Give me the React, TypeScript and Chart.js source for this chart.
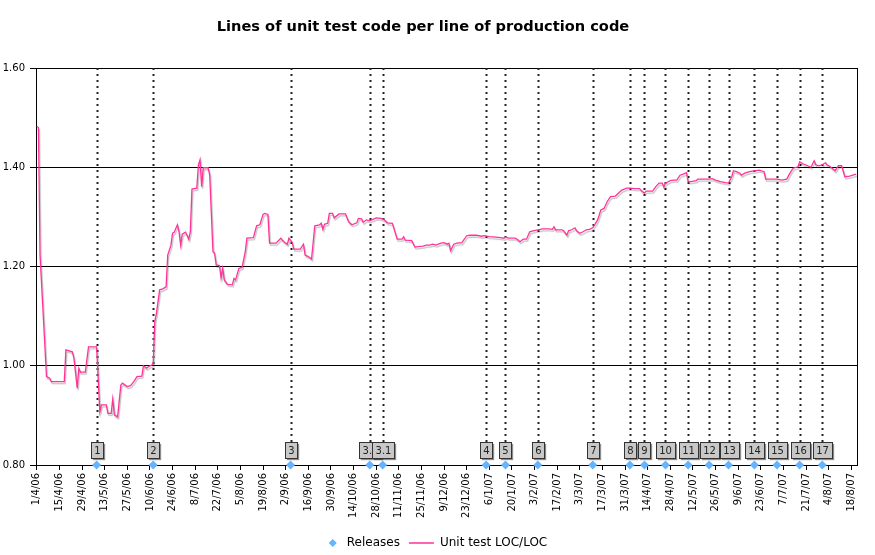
import { useEffect, useRef } from "react";
import { Chart, registerables } from "chart.js";

Chart.register(...registerables);

const FONT = "'DejaVu Sans', Verdana, sans-serif";
const TITLE = "Lines of unit test code per line of production code";
const SERIES_LINE = "Unit test LOC/LOC";
const SERIES_REL = "Releases";
const PINK = "#ff3399";
const BLUE = "#66b3ff";

// Day 0 = 1/4/06
const START = Date.UTC(2006, 3, 1);
const DAY = 86400000;

const tickLabels = [
  "1/4/06", "15/4/06", "29/4/06", "13/5/06", "27/5/06", "10/6/06", "24/6/06", "8/7/06",
  "22/7/06", "5/8/06", "19/8/06", "2/9/06", "16/9/06", "30/9/06", "14/10/06", "28/10/06",
  "11/11/06", "25/11/06", "9/12/06", "23/12/06", "6/1/07", "20/1/07", "3/2/07", "17/2/07",
  "3/3/07", "17/3/07", "31/3/07", "14/4/07", "28/4/07", "12/5/07", "26/5/07", "9/6/07",
  "23/6/07", "7/7/07", "21/7/07", "4/8/07", "18/8/07",
];
const yTicks = [0.8, 1.0, 1.2, 1.4, 1.6];

const releaseNames = ["1", "2", "3", "3.0", "3.1", "4", "5", "6", "7", "8", "9", "10", "11", "12", "13", "14", "15", "16", "17"];
const releaseDates = [
  "8/5/06", "12/6/06", "5/9/06", "24/10/06", "1/11/06", "4/1/07", "16/1/07", "5/2/07", "11/3/07",
  "3/4/07", "12/4/07", "25/4/07", "9/5/07", "22/5/07", "3/6/07", "19/6/07", "3/7/07", "17/7/07", "31/7/07",
];

// days since 1/4/06
const days = [
  0, 1, 2, 6, 8, 9, 17, 18, 22, 23, 25, 26, 27, 30, 32, 37, 39, 40, 43, 44, 46, 47, 48, 50, 52, 53, 56, 58, 60, 62,
  65, 66, 68, 69, 72, 73, 74, 76, 78, 80, 81, 83, 84, 85, 87, 88, 89, 90, 92, 93, 94, 95, 96, 99, 100, 101, 102, 103, 106, 107,
  109, 110, 111, 113, 114, 115, 116, 118, 121, 122, 123, 125, 127, 129, 130, 134, 136, 138, 140, 141, 143, 144, 148, 151, 152, 154, 155, 156, 158, 159,
  163, 165, 166, 168, 170, 172, 175, 176, 177, 178, 180, 181, 183, 184, 187, 191, 193, 195, 198, 199, 201, 202, 204, 206, 208, 210, 213, 215, 217, 220,
  223, 226, 227, 228, 232, 234, 236, 239, 241, 243, 245, 247, 250, 252, 254, 255, 256, 258, 260, 263, 266, 268, 272, 275, 277, 280, 284, 287, 289, 290,
  292, 296, 298, 299, 301, 303, 305, 307, 310, 313, 317, 319, 320, 321, 325, 326, 328, 329, 331, 333, 334, 336, 338, 340, 342, 344, 347, 349, 351, 353,
  355, 358, 360, 362, 365, 367, 370, 373, 374, 376, 377, 381, 383, 385, 387, 388, 389, 392, 394, 396, 398, 400, 402, 403, 405, 408, 409, 416, 418, 420,
  423, 426, 428, 430, 431, 433, 435, 436, 438, 441, 445, 447, 450, 451, 455, 458, 461, 464, 466, 468, 471, 472, 474, 477, 479, 481, 482, 484, 486, 488,
  489, 491, 494, 496, 498, 500, 503, 507,
];
const ratio = [
  1.482, 1.48, 1.223, 0.978, 0.975, 0.968, 0.968, 1.032, 1.028, 1.015, 0.955, 0.995, 0.987, 0.987, 1.038, 1.038, 0.907, 0.921, 0.921, 0.904, 0.904, 0.933, 0.901, 0.897, 0.961, 0.965, 0.958, 0.96, 0.968, 0.978,
  0.979, 1.0, 0.995, 0.998, 1.003, 1.089, 1.105, 1.153, 1.155, 1.159, 1.223, 1.243, 1.267, 1.269, 1.284, 1.27, 1.243, 1.265, 1.269, 1.263, 1.255, 1.27, 1.356, 1.358, 1.405, 1.415, 1.361, 1.399, 1.399, 1.384,
  1.23, 1.227, 1.203, 1.202, 1.177, 1.196, 1.173, 1.164, 1.163, 1.176, 1.173, 1.196, 1.198, 1.23, 1.257, 1.258, 1.282, 1.284, 1.305, 1.307, 1.305, 1.247, 1.247, 1.257, 1.253, 1.247, 1.245, 1.257, 1.249, 1.235,
  1.235, 1.245, 1.223, 1.22, 1.215, 1.282, 1.284, 1.287, 1.275, 1.285, 1.287, 1.307, 1.307, 1.298, 1.306, 1.306, 1.29, 1.284, 1.288, 1.297, 1.296, 1.289, 1.294, 1.292, 1.295, 1.298, 1.297, 1.294, 1.288, 1.287,
  1.255, 1.255, 1.26, 1.253, 1.252, 1.239, 1.24, 1.241, 1.243, 1.243, 1.245, 1.243, 1.247, 1.248, 1.245, 1.247, 1.232, 1.245, 1.247, 1.248, 1.262, 1.263, 1.263, 1.261, 1.262, 1.26, 1.259, 1.258, 1.257, 1.259,
  1.257, 1.257, 1.253, 1.25, 1.255, 1.255, 1.27, 1.272, 1.274, 1.276, 1.276, 1.275, 1.28, 1.274, 1.274, 1.272, 1.263, 1.272, 1.274, 1.278, 1.272, 1.267, 1.27, 1.274, 1.275, 1.278, 1.294, 1.314, 1.317, 1.331,
  1.341, 1.342, 1.348, 1.354, 1.358, 1.358, 1.357, 1.357, 1.353, 1.348, 1.352, 1.352, 1.361, 1.368, 1.368, 1.36, 1.368, 1.373, 1.374, 1.374, 1.384, 1.386, 1.389, 1.371, 1.371, 1.373, 1.376, 1.376, 1.377, 1.374,
  1.371, 1.369, 1.368, 1.381, 1.393, 1.391, 1.388, 1.384, 1.388, 1.391, 1.393, 1.394, 1.391, 1.376, 1.376, 1.376, 1.374, 1.376, 1.388, 1.398, 1.401, 1.411, 1.407, 1.403, 1.4, 1.413, 1.405, 1.403, 1.405, 1.409,
  1.405, 1.401, 1.393, 1.403, 1.403, 1.381, 1.382, 1.386,
];

const toDay = (s: string) => {
  const [d, m, y] = s.split("/").map(Number);
  return Math.round((Date.UTC(2000 + y, m - 1, d) - START) / DAY);
};
const fmt = (day: number) => {
  const dt = new Date(START + Math.round(day) * DAY);
  return `${dt.getUTCDate()}/${dt.getUTCMonth() + 1}/${String(dt.getUTCFullYear()).slice(2)}`;
};

const tickDays = tickLabels.map(toDay);
const releaseDays = releaseDates.map(toDay);

const annotPlugin = {
  id: "annot",
  beforeDatasetDraw(chart: any, args: any) {
    if (args.index === 0) {
      const ctx = chart.ctx;
      ctx.save();
      ctx.shadowColor = "rgba(0,0,0,0.25)";
      ctx.shadowOffsetX = 1;
      ctx.shadowOffsetY = 2;
      ctx.shadowBlur = 1;
    }
  },
  afterDatasetDraw(chart: any, args: any) {
    if (args.index === 0) chart.ctx.restore();
  },
  beforeDatasetsDraw(chart: any) {
    const { ctx, chartArea, scales } = chart;
    const base = scales.y.getPixelForValue(0.8);
    const boxTop = base - 23;
    ctx.save();
    ctx.strokeStyle = "#222";
    ctx.lineWidth = 2;
    ctx.setLineDash([2, 4]);
    releaseDays.forEach((d) => {
      const x = Math.round(scales.x.getPixelForValue(d)) + 0.5;
      ctx.beginPath();
      ctx.moveTo(x, chartArea.top);
      ctx.lineTo(x, boxTop);
      ctx.stroke();
    });
    ctx.restore();
  },
  afterDatasetsDraw(chart: any) {
    const { ctx, chartArea, scales } = chart;
    const base = scales.y.getPixelForValue(0.8);
    const boxTop = base - 23;
    const boxH = 16;
    ctx.save();
    ctx.font = `10px ${FONT}`;
    ctx.textAlign = "center";
    ctx.textBaseline = "middle";
    releaseDays.forEach((d, i) => {
      const x = Math.round(scales.x.getPixelForValue(d));
      const tw = ctx.measureText(releaseNames[i]).width;
      const w = Math.round(tw + 6);
      const left = Math.round(x - w / 2) + 0.5;
      ctx.save();
      ctx.shadowColor = "rgba(0,0,0,0.45)";
      ctx.shadowOffsetX = 1.5;
      ctx.shadowOffsetY = 1.5;
      ctx.shadowBlur = 1;
      ctx.fillStyle = "#c8c8c8";
      ctx.fillRect(left, boxTop + 0.5, w, boxH);
      ctx.restore();
      ctx.strokeStyle = "#333";
      ctx.lineWidth = 1;
      ctx.strokeRect(left, boxTop + 0.5, w, boxH);
      ctx.fillStyle = "#222";
      ctx.fillText(releaseNames[i], x + 0.5, boxTop + 0.5 + boxH / 2 + 0.5);
    });
    // right border of plot area
    ctx.strokeStyle = "#000";
    ctx.lineWidth = 1;
    ctx.beginPath();
    const rx = Math.round(chartArea.right) + 0.5;
    ctx.moveTo(rx, chartArea.top);
    ctx.lineTo(rx, chartArea.bottom);
    ctx.stroke();
    ctx.restore();
  },
  afterDraw(chart: any) {
    const { ctx } = chart;
    ctx.save();
    // title
    ctx.font = `bold 14.6px ${FONT}`;
    ctx.fillStyle = "#000";
    ctx.textAlign = "center";
    ctx.textBaseline = "middle";
    ctx.fillText(TITLE, 423, 27);
    // legend
    ctx.font = `12px ${FONT}`;
    ctx.textAlign = "left";
    const w1 = ctx.measureText(SERIES_REL).width;
    const w2 = ctx.measureText(SERIES_LINE).width;
    const total = 8 + 10 + w1 + 9 + 25 + 6 + w2;
    let x = 438 - total / 2;
    const y = 543;
    ctx.fillStyle = BLUE;
    ctx.beginPath();
    ctx.moveTo(x + 4, y - 4);
    ctx.lineTo(x + 8, y);
    ctx.lineTo(x + 4, y + 4);
    ctx.lineTo(x, y);
    ctx.closePath();
    ctx.fill();
    x += 18;
    ctx.fillStyle = "#000";
    ctx.fillText(SERIES_REL, x, y);
    x += w1 + 9;
    ctx.strokeStyle = PINK;
    ctx.lineWidth = 1.5;
    ctx.beginPath();
    ctx.moveTo(x, y);
    ctx.lineTo(x + 25, y);
    ctx.stroke();
    x += 31;
    ctx.fillText(SERIES_LINE, x, y);
    ctx.restore();
  },
};

export default function App() {
  const ref = useRef<HTMLCanvasElement | null>(null);
  useEffect(() => {
    if (!ref.current) return;
    const chart = new Chart(ref.current, {
      type: "line",
      data: {
        datasets: [
          {
            label: SERIES_LINE,
            data: days.map((d, i) => ({ x: d, y: ratio[i] })),
            borderColor: PINK,
            backgroundColor: PINK,
            borderWidth: 1.3,
            pointRadius: 0,
            tension: 0,
            fill: false,
            order: 2,
          } as any,
          {
            type: "scatter",
            label: SERIES_REL,
            data: releaseDays.map((d) => ({ x: d, y: 0.8 })),
            pointStyle: "rectRot",
            pointRadius: 4.5,
            backgroundColor: BLUE,
            borderColor: BLUE,
            borderWidth: 0,
            clip: false,
            order: 1,
          } as any,
        ],
      },
      options: {
        animation: false,
        responsive: false,
        events: [],
        layout: { padding: { top: 68, right: 18, bottom: 30, left: 0 } },
        plugins: {
          legend: { display: false },
          title: { display: false },
          tooltip: { enabled: false },
        },
        scales: {
          x: {
            type: "linear",
            min: -0.5,
            max: 507.5,
            afterBuildTicks: (s: any) => {
              s.ticks = tickDays.map((v) => ({ value: v }));
            },
            afterFit: (s: any) => {
              s.height = 60;
            },
            ticks: {
              autoSkip: false,
              minRotation: 90,
              maxRotation: 90,
              padding: 3,
              color: "#000",
              font: { family: FONT, size: 10 },
              callback: (v: any) => fmt(Number(v)),
            },
            grid: { drawOnChartArea: false, drawTicks: true, tickLength: 5, color: "#000" },
            border: { color: "#000", width: 1 },
          },
          y: {
            type: "linear",
            min: 0.8,
            max: 1.6,
            afterBuildTicks: (s: any) => {
              s.ticks = yTicks.map((v) => ({ value: v }));
            },
            afterFit: (s: any) => {
              s.width = 36;
            },
            ticks: {
              padding: 5,
              color: "#000",
              font: { family: FONT, size: 10 },
              callback: (v: any) => Number(v).toFixed(2),
            },
            grid: { color: "#000", tickLength: 6 },
            border: { color: "#000", width: 1 },
          },
        },
      } as any,
      plugins: [annotPlugin],
    });
    return () => chart.destroy();
  }, []);
  return (
    <div style={{ position: "absolute", left: 0, top: 0, width: 875, height: 555, background: "#fff" }}>
      <canvas ref={ref} width={875} height={555} style={{ display: "block" }} />
    </div>
  );
}
